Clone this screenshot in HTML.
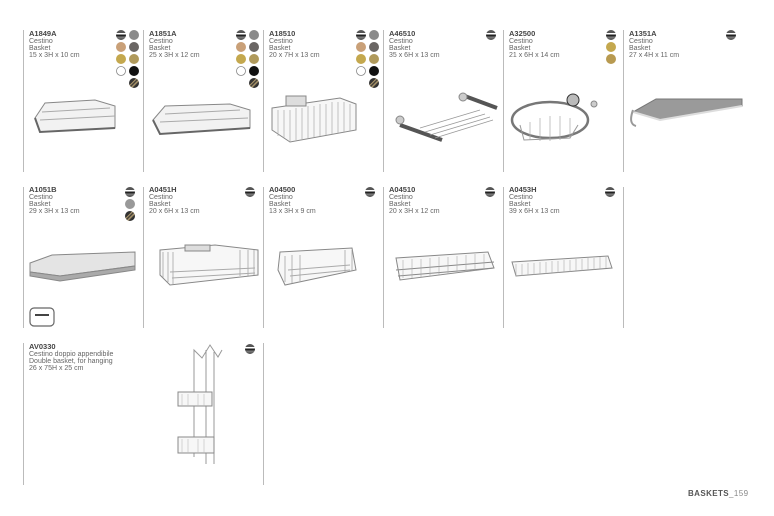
<!DOCTYPE html>
<html><head><meta charset="utf-8"><style>
html,body{margin:0;padding:0;background:#fff;width:774px;height:516px;overflow:hidden}
svg{display:block}
text{font-family:"Liberation Sans",sans-serif}
.c{font-size:7.5px;font-weight:bold;fill:#444}
.t{font-size:7px;fill:#666}
</style></head><body>
<svg width="774" height="516" viewBox="0 0 774 516" xmlns="http://www.w3.org/2000/svg">
<defs>
<linearGradient id="chr" x1="0" y1="0" x2="0" y2="1">
<stop offset="0" stop-color="#555"/><stop offset=".3" stop-color="#555"/><stop offset=".3" stop-color="#fff"/><stop offset=".45" stop-color="#fff"/><stop offset=".45" stop-color="#222"/><stop offset=".65" stop-color="#222"/><stop offset=".65" stop-color="#888"/><stop offset="1" stop-color="#444"/>
</linearGradient>
<linearGradient id="brz" x1="0" y1="0" x2="1" y2="1">
<stop offset="0" stop-color="#333"/><stop offset=".35" stop-color="#333"/><stop offset=".4" stop-color="#b8a070"/><stop offset=".5" stop-color="#333"/><stop offset=".6" stop-color="#b8a070"/><stop offset=".7" stop-color="#333"/><stop offset="1" stop-color="#222"/>
</linearGradient>
<g id="ch"><circle r="5" fill="url(#chr)"/></g>
</defs>
<g stroke="#bbb" stroke-width="1">
<line x1="23.5" y1="30" x2="23.5" y2="172"/><line x1="143.5" y1="30" x2="143.5" y2="172"/><line x1="263.5" y1="30" x2="263.5" y2="172"/><line x1="383.5" y1="30" x2="383.5" y2="172"/><line x1="503.5" y1="30" x2="503.5" y2="172"/><line x1="623.5" y1="30" x2="623.5" y2="172"/>
<line x1="23.5" y1="187" x2="23.5" y2="328"/><line x1="143.5" y1="187" x2="143.5" y2="328"/><line x1="263.5" y1="187" x2="263.5" y2="328"/><line x1="383.5" y1="187" x2="383.5" y2="328"/><line x1="503.5" y1="187" x2="503.5" y2="328"/><line x1="623.5" y1="187" x2="623.5" y2="328"/>
<line x1="23.5" y1="343" x2="23.5" y2="485"/><line x1="263.5" y1="343" x2="263.5" y2="485"/>
</g>
<!-- texts row1 -->
<g>
<text class="c" x="29" y="36">A1849A</text><text class="t" x="29" y="43">Cestino</text><text class="t" x="29" y="50">Basket</text><text class="t" x="29" y="57">15 x 3H x 10 cm</text>
<text class="c" x="149" y="36">A1851A</text><text class="t" x="149" y="43">Cestino</text><text class="t" x="149" y="50">Basket</text><text class="t" x="149" y="57">25 x 3H x 12 cm</text>
<text class="c" x="269" y="36">A18510</text><text class="t" x="269" y="43">Cestino</text><text class="t" x="269" y="50">Basket</text><text class="t" x="269" y="57">20 x 7H x 13 cm</text>
<text class="c" x="389" y="36">A46510</text><text class="t" x="389" y="43">Cestino</text><text class="t" x="389" y="50">Basket</text><text class="t" x="389" y="57">35 x 6H x 13 cm</text>
<text class="c" x="509" y="36">A32500</text><text class="t" x="509" y="43">Cestino</text><text class="t" x="509" y="50">Basket</text><text class="t" x="509" y="57">21 x 6H x 14 cm</text>
<text class="c" x="629" y="36">A1351A</text><text class="t" x="629" y="43">Cestino</text><text class="t" x="629" y="50">Basket</text><text class="t" x="629" y="57">27 x 4H x 11 cm</text>
<text class="c" x="29" y="192">A1051B</text><text class="t" x="29" y="199">Cestino</text><text class="t" x="29" y="206">Basket</text><text class="t" x="29" y="213">29 x 3H x 13 cm</text>
<text class="c" x="149" y="192">A0451H</text><text class="t" x="149" y="199">Cestino</text><text class="t" x="149" y="206">Basket</text><text class="t" x="149" y="213">20 x 6H x 13 cm</text>
<text class="c" x="269" y="192">A04500</text><text class="t" x="269" y="199">Cestino</text><text class="t" x="269" y="206">Basket</text><text class="t" x="269" y="213">13 x 3H x 9 cm</text>
<text class="c" x="389" y="192">A04510</text><text class="t" x="389" y="199">Cestino</text><text class="t" x="389" y="206">Basket</text><text class="t" x="389" y="213">20 x 3H x 12 cm</text>
<text class="c" x="509" y="192">A0453H</text><text class="t" x="509" y="199">Cestino</text><text class="t" x="509" y="206">Basket</text><text class="t" x="509" y="213">39 x 6H x 13 cm</text>
<text class="c" x="29" y="349">AV0330</text><text class="t" x="29" y="356">Cestino doppio appendibile</text><text class="t" x="29" y="363">Double basket, for hanging</text><text class="t" x="29" y="370">26 x 75H x 25 cm</text>
</g>
<!-- swatches: 9-color sets -->
<g id="sw9">
<use href="#ch" x="121" y="35"/><circle cx="134" cy="35" r="5" fill="#8a8a8a"/>
<circle cx="121" cy="47" r="5" fill="#c9a078"/><circle cx="134" cy="47" r="5" fill="#6a6664"/>
<circle cx="121" cy="59" r="5" fill="#c4a84e"/><circle cx="134" cy="59" r="5" fill="#b09a5c"/>
<circle cx="121" cy="71" r="4.5" fill="#fff" stroke="#888" stroke-width=".8"/><circle cx="134" cy="71" r="5" fill="#111"/>
<circle cx="134" cy="83" r="5" fill="url(#brz)"/>
</g>
<use href="#sw9" x="120"/><use href="#sw9" x="240"/>
<use href="#ch" x="491" y="35"/>
<use href="#ch" x="611" y="35"/><circle cx="611" cy="47" r="5" fill="#c4a84e"/><circle cx="611" cy="59" r="5" fill="#b89a50"/>
<use href="#ch" x="731" y="35"/>
<use href="#ch" x="130" y="192"/><circle cx="130" cy="204" r="5" fill="#999"/><circle cx="130" cy="216" r="5" fill="url(#brz)"/>
<use href="#ch" x="250" y="192"/><use href="#ch" x="370" y="192"/><use href="#ch" x="490" y="192"/><use href="#ch" x="610" y="192"/>
<use href="#ch" x="250" y="349"/>
<!-- product drawings -->
<g fill="none" stroke="#888" stroke-width="1">
<!-- A1849A -->
<path d="M35 118 L45 103 L95 100 L115 106 L115 128 L40 132 Z" fill="#f2f2f2"/>
<path d="M40 120 L115 116 M42 112 L110 108" stroke="#aaa"/>
<path d="M35 118 L40 132 L115 128" stroke="#666" stroke-width="2"/>
<!-- A1851A -->
<path d="M153 120 L165 106 L230 104 L250 110 L250 128 L160 134 Z" fill="#f2f2f2"/>
<path d="M160 122 L248 118 M165 114 L240 110" stroke="#aaa"/>
<path d="M153 120 L160 134 L250 128" stroke="#666" stroke-width="2"/>
<!-- A18510 -->
<path d="M272 108 L340 98 L356 104 L356 130 L290 142 L272 130 Z" fill="#f7f7f7"/>
<path d="M278 110 V136 M284 110 V138 M290 110 V142 M296 108 V140 M302 108 V139 M308 106 V138 M314 106 V137 M320 104 V136 M326 104 V135 M332 102 V134 M338 102 V133 M344 102 V132 M350 104 V131" stroke="#aaa" stroke-width=".7"/>
<rect x="286" y="96" width="20" height="10" fill="#ddd"/>
<!-- A46510 -->
<path d="M400 125 L442 140 M462 95 L497 108" stroke="#555" stroke-width="4"/>
<path d="M420 128 L480 110 M425 132 L485 114 M430 135 L490 117 M435 138 L493 120" stroke="#999" stroke-width=".8"/>
<circle cx="400" cy="120" r="4" fill="#ccc"/><circle cx="463" cy="97" r="4" fill="#ccc"/>
<!-- A32500 -->
<ellipse cx="550" cy="120" rx="38" ry="18" stroke="#777" stroke-width="2.5"/>
<path d="M520 125 L524 140 L570 138 L578 125" stroke="#999"/>
<path d="M530 122 V140 M540 118 V141 M550 116 V141 M560 116 V140 M570 118 V138" stroke="#aaa" stroke-width=".7"/>
<circle cx="573" cy="100" r="6" fill="#bbb" stroke="#333"/><circle cx="594" cy="104" r="3" fill="#ccc"/>
<!-- A1351A -->
<path d="M633 112 L656 99 L742 99 L742 106 L660 120 Z" fill="#9a9a9a" stroke="#777"/>
<path d="M633 112 L660 120 L742 106" stroke="#ddd" stroke-width="2"/>
<path d="M633 110 Q628 124 636 126" stroke="#999" stroke-width="2"/>
<!-- A1051B -->
<path d="M30 263 L52 255 L135 252 L135 266 L60 276 L30 272 Z" fill="#e4e4e4" stroke="#888"/>
<path d="M30 272 L60 276 L135 266 L135 270 L60 281 L30 276 Z" fill="#aaa" stroke="#888"/>
<rect x="30" y="308" width="24" height="18" rx="4" stroke="#666" stroke-width="1.2"/>
<path d="M35 315 H49" stroke="#444" stroke-width="2"/>
<!-- A0451H -->
<path d="M160 250 L215 245 L258 250 L258 275 L170 285 L160 275 Z" fill="#f7f7f7"/>
<path d="M163 252 V278 M168 252 V282 M173 252 V284 M240 250 V276 M248 250 V276 M254 250 V275" stroke="#999" stroke-width=".7"/>
<path d="M170 272 L255 268 M172 278 L255 273" stroke="#aaa"/>
<rect x="185" y="245" width="25" height="6" fill="#ddd"/>
<!-- A04500 -->
<path d="M280 252 L352 248 L356 270 L285 285 L278 270 Z" fill="#f7f7f7"/>
<path d="M285 256 V282 M292 255 V283 M300 255 V281 M345 250 V272 M352 250 V271" stroke="#999" stroke-width=".7"/>
<path d="M288 270 L350 265 M290 276 L350 270" stroke="#aaa"/>
<!-- A04510 -->
<path d="M396 258 L488 252 L494 268 L400 280 Z" fill="#f7f7f7"/>
<path d="M396 270 L494 262 M398 276 L494 268" stroke="#888"/>
<path d="M403 260 V278 M412 259 V278 M421 259 V277 M430 258 V276 M439 257 V275 M448 257 V274 M457 256 V273 M466 255 V272 M475 254 V271 M484 254 V270" stroke="#aaa" stroke-width=".6"/>
<!-- A0453H -->
<path d="M512 262 L608 256 L612 268 L516 276 Z" fill="#f7f7f7"/>
<path d="M516 264 V276 M522 264 V276 M528 263 V275 M534 263 V275 M540 262 V274 M546 262 V274 M552 261 V273 M558 261 V273 M564 260 V272 M570 260 V272 M576 259 V271 M582 259 V271 M588 258 V270 M594 258 V270 M600 257 V269 M606 257 V268" stroke="#aaa" stroke-width=".6"/>
<!-- AV0330 -->
<path d="M194 457 V350 L202 358 L210 345 L218 357 L222 350" stroke="#999"/>
<path d="M206 464 V350 M214 464 V352" stroke="#999"/>
<rect x="178" y="392" width="34" height="14" fill="#f7f7f7"/>
<rect x="178" y="437" width="36" height="16" fill="#f7f7f7"/>
<path d="M182 394 V406 M188 394 V406 M198 394 V406 M204 394 V406 M182 439 V453 M188 439 V453 M198 439 V453 M204 439 V453" stroke="#bbb" stroke-width=".6"/>
</g>
<text x="688" y="496" style="font-size:8px;font-weight:bold;fill:#555;letter-spacing:.4px">BASKETS<tspan style="font-weight:normal;fill:#888">_159</tspan></text>
</svg>
</body></html>
